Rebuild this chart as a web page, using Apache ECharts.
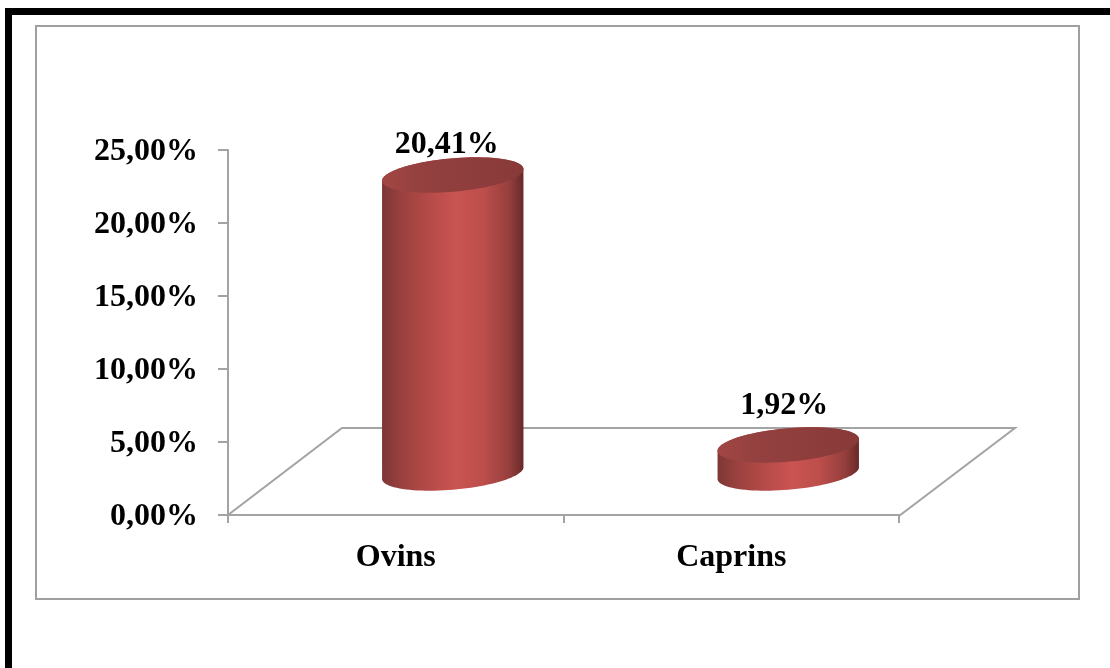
<!DOCTYPE html>
<html>
<head>
<meta charset="utf-8">
<title>Ovins et Caprins</title>
<script src="https://cdn.jsdelivr.net/npm/echarts@6/dist/echarts.min.js"></script>
<style>
  html, body { margin: 0; padding: 0; background: #fff; }
  #chart { width: 1110px; height: 668px; }
</style>
</head>
<body>
<div id="chart"></div>
<script>
// Percentages per species
const categories = ['Ovins', 'Caprins'];
const values = [20.41, 1.92];
const yTicks = { min: 0, max: 25, step: 5 };

// Perspective settings of the pseudo 3D cylinders
const depthShift = { x: 57, y: -42 };   // base centre relative to the front axis plane
const radiusRatio = 0.2115;             // horizontal half width as a share of the band
const minorRatio = 0.235;               // ellipse flattening
const tilt = 5 * Math.PI / 180;         // ellipse rotation, rising to the right
const labelShift = [{ x: -6, y: 30 }, { x: -4, y: 39 }];

const percent = v => v.toFixed(2).replace('.', ',') + '%';
const SERIF = '"Liberation Serif", "Times New Roman", serif';
const AXIS_GREY = '#a3a3a3';

// Point on the tilted ellipse around (cx, cy) at parameter t
function ellipsePoint(cx, cy, a, b, t) {
  const u = a * Math.cos(t), v = b * Math.sin(t);
  return [
    cx + u * Math.cos(tilt) + v * Math.sin(tilt),
    cy - u * Math.sin(tilt) + v * Math.cos(tilt)
  ];
}

function sampleArc(cx, cy, a, b, from, to, n) {
  const pts = [];
  for (let i = 0; i <= n; i++) {
    pts.push(ellipsePoint(cx, cy, a, b, from + (to - from) * i / n));
  }
  return pts;
}

function renderCylinder(params, api) {
  const i = api.value(0);
  const base = api.coord([i, 0]);
  const top = api.coord([i, api.value(1)]);
  const band = api.size([1, 0])[0];
  const a = band * radiusRatio;
  const b = a * minorRatio;
  const cx = base[0] + depthShift.x;
  const by = base[1] + depthShift.y;
  const ty = top[1] + depthShift.y;

  // Parameter of the silhouette tangents: right-hand one, then half a turn to the left-hand one
  const t0 = Math.atan2(b * Math.sin(tilt), a * Math.cos(tilt));
  const lower = sampleArc(cx, by, a, b, t0, t0 + Math.PI, 48);
  const upper = sampleArc(cx, ty, a, b, t0 + Math.PI, t0 + 2 * Math.PI, 48);
  const lid = sampleArc(cx, ty, a, b, 0, 2 * Math.PI, 96);

  const shift = labelShift[i];
  return {
    type: 'group',
    children: [
      {
        type: 'polygon',
        shape: { points: lower.concat(upper) },
        style: {
          fill: new echarts.graphic.LinearGradient(0, 0, 1, 0, [
            { offset: 0, color: '#7c3735' },
            { offset: 0.12, color: '#97403e' },
            { offset: 0.32, color: '#b34a47' },
            { offset: 0.52, color: '#ca5451' },
            { offset: 0.72, color: '#bc4e4b' },
            { offset: 0.9, color: '#953f3d' },
            { offset: 1, color: '#692827' }
          ])
        }
      },
      {
        type: 'polygon',
        shape: { points: lid },
        style: {
          fill: new echarts.graphic.LinearGradient(0, 0, 1, 0, [
            { offset: 0, color: '#a34643' },
            { offset: 0.25, color: '#944140' },
            { offset: 1, color: '#883a38' }
          ])
        }
      },
      {
        type: 'text',
        style: {
          x: cx + shift.x,
          y: ty - shift.y,
          text: percent(api.value(1)),
          font: 'bold 32px ' + SERIF,
          fill: '#000',
          align: 'center',
          verticalAlign: 'middle'
        }
      }
    ]
  };
}

const chart = echarts.init(document.getElementById('chart'), null, { renderer: 'canvas' });

chart.setOption({
  animation: false,
  backgroundColor: '#fff',
  grid: { left: 228, right: 211, top: 150, bottom: 153 },
  xAxis: {
    type: 'category',
    data: categories,
    boundaryGap: true,
    axisLine: { lineStyle: { color: AXIS_GREY, width: 2 } },
    axisTick: { show: true, length: 8, lineStyle: { color: AXIS_GREY, width: 2 } },
    axisLabel: { color: '#000', fontFamily: SERIF, fontWeight: 'bold', fontSize: 32, margin: 27 }
  },
  yAxis: {
    type: 'value',
    min: yTicks.min,
    max: yTicks.max,
    interval: yTicks.step,
    splitLine: { show: false },
    axisLine: { show: true, lineStyle: { color: AXIS_GREY, width: 2 } },
    axisTick: { show: true, length: 10, lineStyle: { color: AXIS_GREY, width: 2 } },
    // A short top-anchored line box sets the labels slightly below their ticks
    axisLabel: { color: '#000', fontFamily: SERIF, fontWeight: 'bold', fontSize: 32, margin: 30,
      verticalAlign: 'top', lineHeight: 4, formatter: percent }
  },
  graphic: [
    // Page rule along the top and left edges
    { type: 'rect', z: 0, shape: { x: 5, y: 8, width: 1105, height: 7 }, style: { fill: '#000' } },
    { type: 'rect', z: 0, shape: { x: 5, y: 8, width: 7, height: 660 }, style: { fill: '#000' } },
    // Chart area border
    { type: 'rect', z: 0, shape: { x: 36, y: 26, width: 1043, height: 573 },
      style: { fill: 'none', stroke: '#a0a0a0', lineWidth: 2 } },
    // Floor of the 3D plot
    { type: 'polyline', z: 0, shape: { points: [[228, 515], [342, 428], [1015, 428], [899, 516]] },
      style: { fill: 'none', stroke: AXIS_GREY, lineWidth: 2 } }
  ],
  series: [{
    type: 'custom',
    renderItem: renderCylinder,
    clip: false,
    encode: { x: 0, y: 1 },
    data: values.map((v, i) => [i, v])
  }]
});
</script>
</body>
</html>
